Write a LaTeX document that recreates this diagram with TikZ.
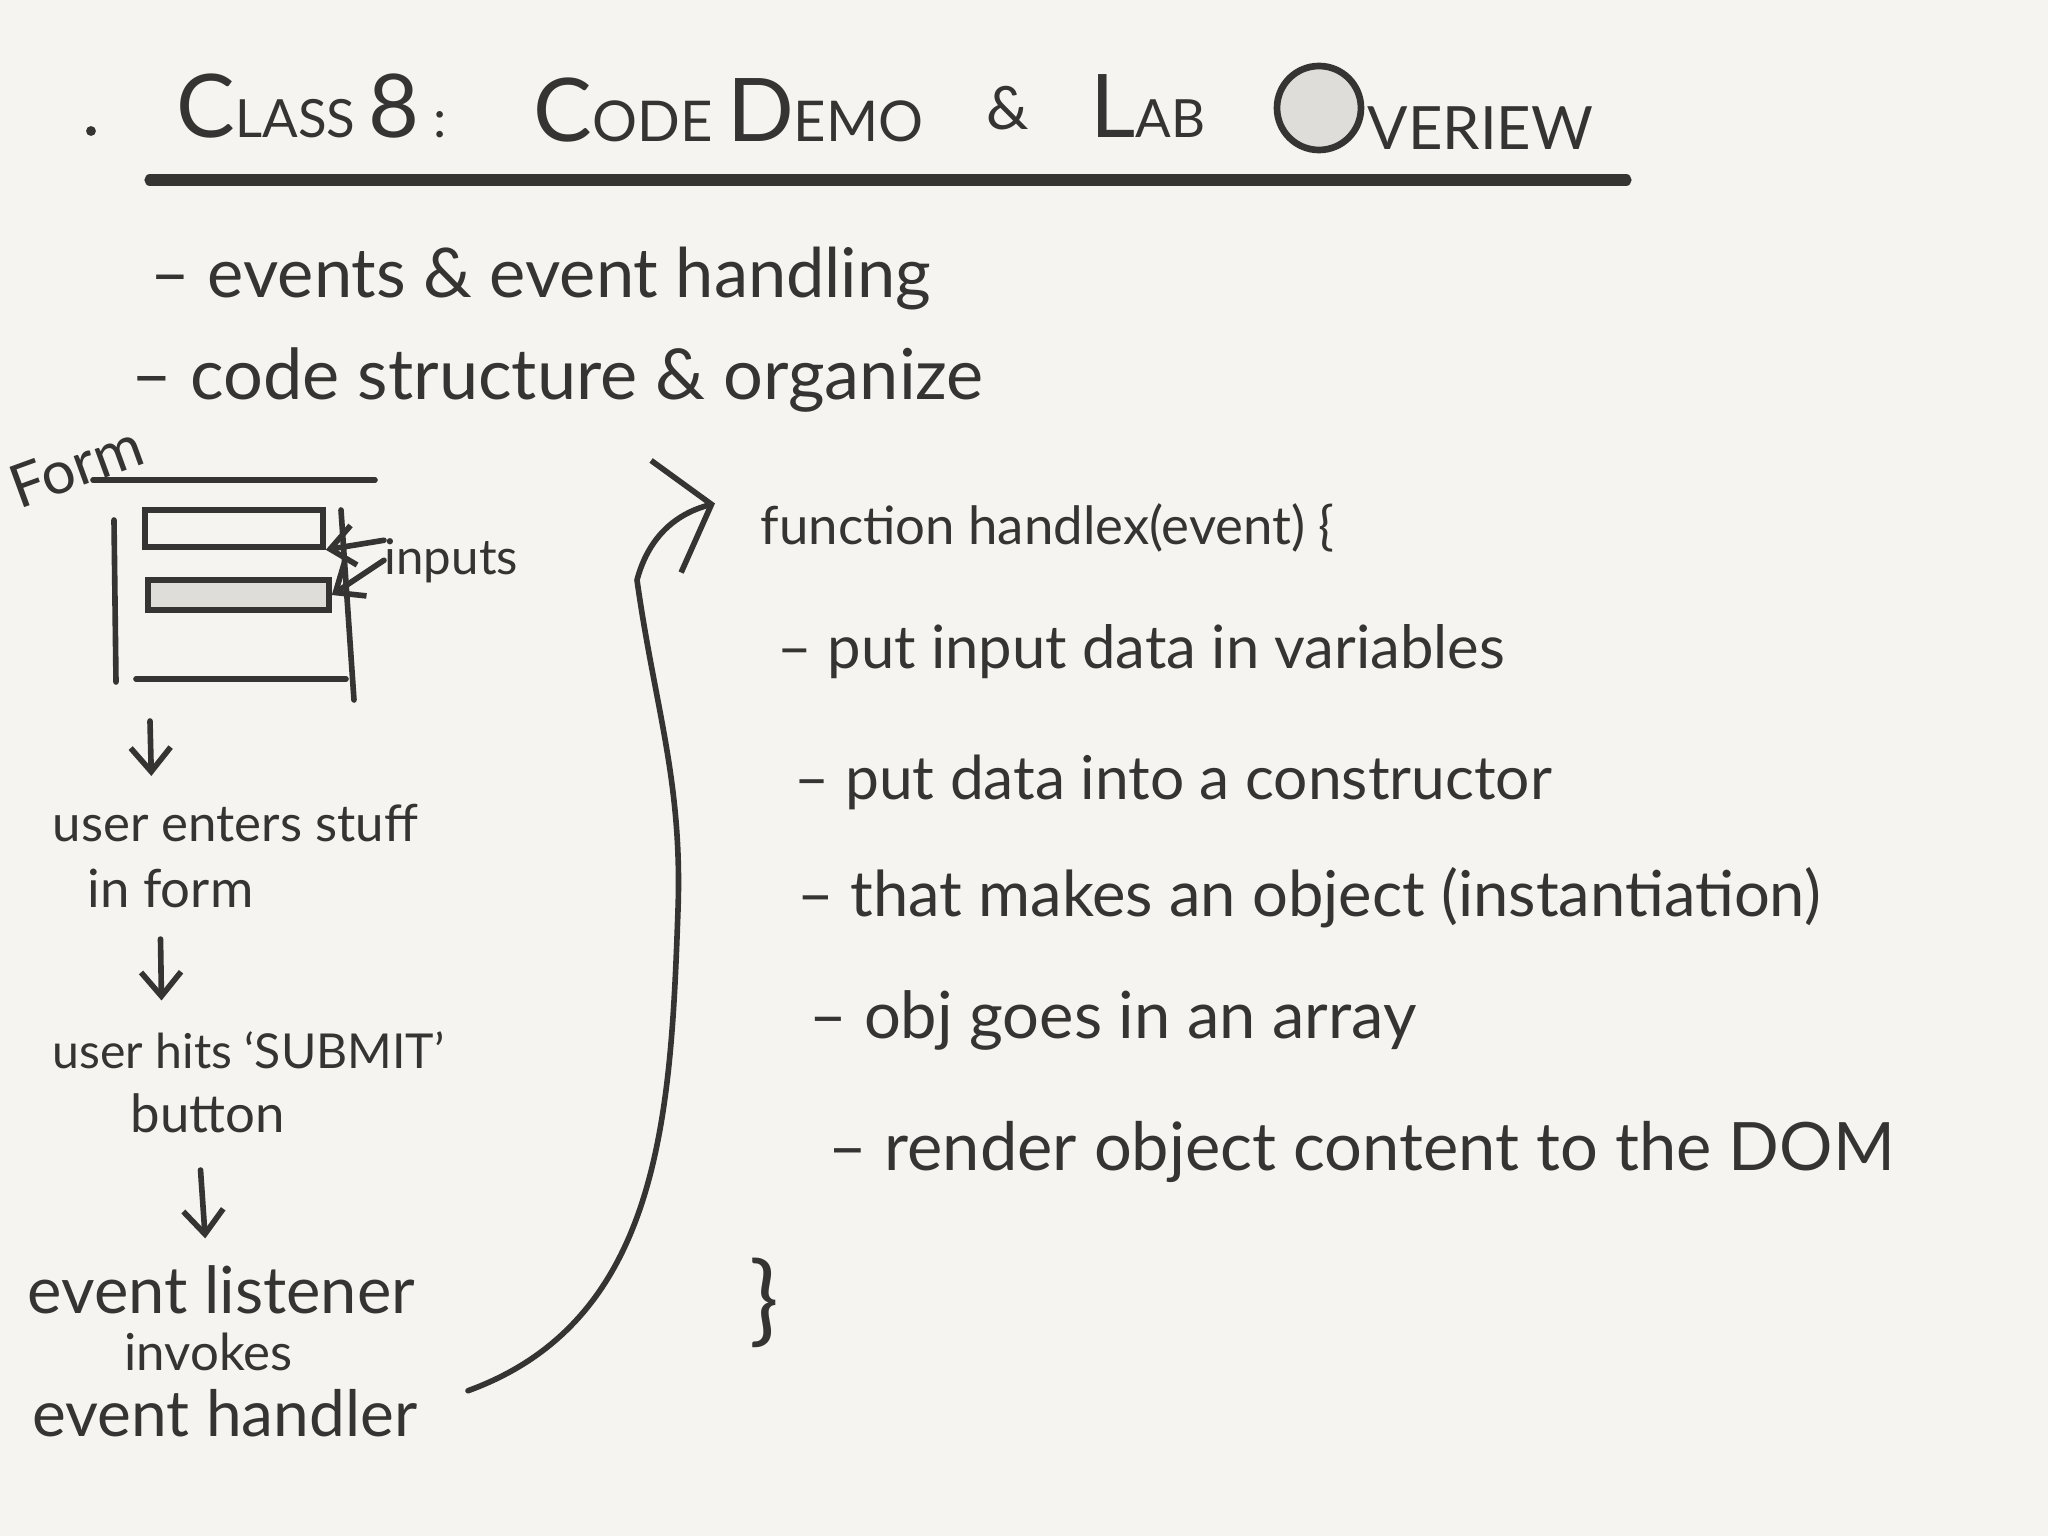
\documentclass[tikz,border=0pt]{standalone}
\usepackage{fontspec}
\setmainfont{Lato}
\usepackage{xcolor}
\usetikzlibrary{arrows.meta,positioning}

\definecolor{ink}{HTML}{353432}
\definecolor{paper}{HTML}{F5F4F0}
\definecolor{fieldgray}{HTML}{DEDDDA}

\newcommand{\fsz}[1]{\fontsize{#1}{#1}\selectfont}
\newcommand{\capl}[1]{{\fsz{25}#1}}

\tikzset{
  pen/.style={ink, line width=1.6pt, line cap=round, line join=round},
  flow/.style={pen, -{Straight Barb[length=2.4mm,width=4mm]}},
  txt/.style={ink, anchor=base west, inner sep=0pt},
}

\begin{document}
\begin{tikzpicture}
\useasboundingbox (0,0) rectangle (20.48,-15.36);
\fill[paper] (0,0) rectangle (20.48,-15.36);

\fill[ink] (0.91,-1.31) circle (1.4pt);
\node[txt, font=\fsz{15}] (tclass) at (1.76,-1.38) {\capl{C}LASS \capl{8} :};
\node[txt, font=\fsz{16}] (tcode) at (5.33,-1.42) {\capl{C}ODE \capl{D}EMO};
\node[txt, font=\fsz{17}] (tand) at (9.86,-1.30) {\&};
\node[txt, font=\fsz{15}] (tlab) at (10.90,-1.38) {\capl{L}AB};
\node[circle, draw=ink, fill=fieldgray, line width=1.9pt, minimum size=0.84cm, inner sep=0pt] (tover) at (13.19,-1.08) {};
\node[txt, font=\fsz{17}] (tview) at (13.67,-1.50) {VERIEW};
\draw[pen, line width=3.2pt] (1.50,-1.80) -- (16.26,-1.80);

\node[txt, font=\fsz{19.5}] (topic1) at (1.50,-2.98) {-- events \& event handling};
\node[txt, font=\fsz{20}] (topic2) at (1.31,-4.00) {-- code structure \& organize};

\node[ink, rotate=20, font=\fsz{17}] (formlbl) at (0.76,-4.66) {Form};
\draw[pen] (0.93,-4.80) -- (3.75,-4.80);
\draw[pen] (1.14,-5.20) -- (1.16,-6.82);
\draw[pen] (3.41,-5.10) -- (3.54,-7.00);
\draw[pen] (1.36,-6.79) -- (3.46,-6.79);
\node[draw=ink, line width=1.6pt, minimum width=1.78cm, minimum height=0.37cm, inner sep=0pt] (field1) at (2.34,-5.285) {};
\node[draw=ink, fill=fieldgray, line width=1.6pt, minimum width=1.81cm, minimum height=0.30cm, inner sep=0pt] (field2) at (2.385,-5.95) {};
\node[txt, font=\fsz{14}] (inputs) at (3.84,-5.74) {inputs};
\draw[flow] ([yshift=2mm]inputs.west) -- (field1.south east);
\draw[flow] (inputs.west) -- (field2.east);
\coordinate (formbase) at (1.50,-7.21);

\node[txt, font=\fsz{14.5}] (enter) at (0.52,-8.41) {user enters stuff};
\node[txt, font=\fsz{15}] (inform) at (0.87,-9.07) {in form};
\node[txt, font=\fsz{13.7}] (submit) at (0.52,-10.68) {user hits `SUBMIT'};
\node[txt, font=\fsz{15}] (button) at (1.30,-11.32) {button};
\node[txt, font=\fsz{18.5}] (listener) at (0.27,-13.13) {event listener};
\node[txt, font=\fsz{14.5}] (invokes) at (1.24,-13.70) {invokes};
\node[txt, font=\fsz{18.2}] (handler) at (0.32,-14.36) {event handler};

\draw[flow, shorten >=2.7mm] (formbase) -- ([xshift=10mm]enter.north west);
\draw[flow, shorten <=3.1mm, shorten >=3mm] ([xshift=7.3mm]inform.south west) -- ([xshift=11mm]submit.north west);
\draw[flow, shorten <=3.7mm, shorten >=2.6mm] ([xshift=6.8mm]button.south west) -- ([xshift=18mm]listener.north west);

\node[txt, font=\fsz{15}] (func) at (7.60,-5.45) {function handlex(event) \{};
\node[txt, font=\fsz{17}] (step1) at (7.77,-6.69) {-- put input data in variables};
\node[txt, font=\fsz{17.2}] (step2) at (7.94,-7.99) {-- put data into a constructor};
\node[txt, font=\fsz{18}] (step3) at (7.97,-9.16) {-- that makes an object (instantiation)};
\node[txt, font=\fsz{18.5}] (step4) at (8.09,-10.38) {-- obj goes in an array};
\node[txt, font=\fsz{19}] (step5) at (8.28,-11.70) {-- render object content to the DOM};
\node[ink, font=\fsz{28}] (endbrace) at (7.64,-13.03) {\}};

\coordinate (swing) at (6.78,-9.10);
\coordinate (hook) at (6.37,-5.80);
\draw[pen, -{Straight Barb[length=4.7mm,width=11.6mm]}] ([xshift=5mm,yshift=2.2mm]handler.east) to[out=20,in=-92] (swing) to[out=88,in=-82] (hook) to[out=75,in=195] ([xshift=-4.5mm,yshift=2.5mm]func.west);
\end{tikzpicture}
\end{document}
